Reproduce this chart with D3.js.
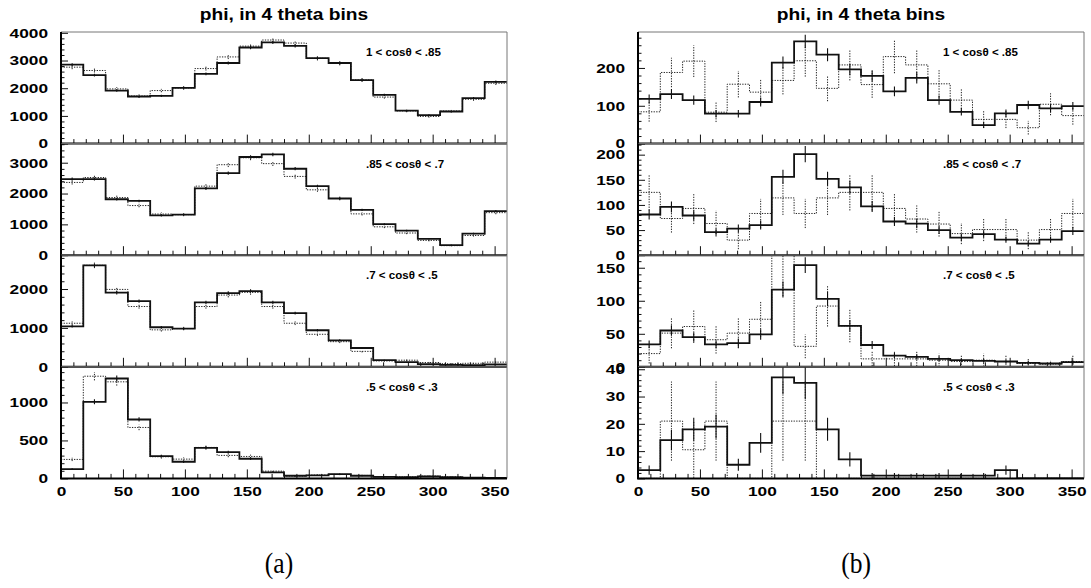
<!DOCTYPE html>
<html>
<head>
<meta charset="utf-8">
<script src="https://cdn.jsdelivr.net/npm/d3@7"></script>
<style>
  html, body { margin: 0; padding: 0; background: #fff; }
  svg { display: block; }
</style>
</head>
<body>
<svg id="chart" width="1091" height="588"></svg>
<script>
// ---- binning and labels -------------------------------------------------
const binEdges = [0, 18, 36, 54, 72, 90, 108, 126, 144, 162, 180, 198, 216, 234, 252, 270, 288, 306, 324, 342, 360];
const xTickLabels = [0, 50, 100, 150, 200, 250, 300, 350];
const xMinorTicks = [10, 20, 30, 40, 60, 70, 80, 90, 110, 120, 130, 140, 160, 170, 180, 190, 210, 220, 230, 240, 260, 270, 280, 290, 310, 320, 330, 340];
const titleText = "phi, in 4 theta bins";
const thetaLabels = ["1 < cos\u03b8 < .85", ".85 < cos\u03b8 < .7", ".7 < cos\u03b8 < .5", ".5 < cos\u03b8 < .3"];
const captions = ["(a)", "(b)"];

// ---- column (a): counts per phi bin ------------------------------------
const a1Solid  = [2850, 2470, 1915, 1700, 1720, 2010, 2515, 2910, 3470, 3655, 3530, 3090, 2910, 2295, 1760, 1190, 1030, 1160, 1640, 2230];
const a1SolidErr = [53, 50, 44, 41, 41, 45, 50, 54, 59, 60, 59, 56, 54, 48, 42, 34, 32, 34, 40, 47];
const a1Dotted = [2760, 2640, 1975, 1720, 1915, 2010, 2710, 3130, 3520, 3740, 3630, 3080, 2900, 2300, 1680, 1180, 980, 1180, 1600, 2180];
const a1DottedErr = [74, 72, 62, 58, 61, 63, 73, 78, 83, 86, 84, 78, 75, 67, 57, 48, 44, 48, 56, 65];

const a2Solid  = [2470, 2470, 1815, 1760, 1295, 1315, 2165, 2665, 3185, 3270, 2805, 2240, 1840, 1470, 1005, 800, 530, 330, 700, 1430];
const a2SolidErr = [50, 50, 43, 42, 36, 36, 47, 52, 56, 57, 53, 47, 43, 38, 32, 28, 23, 18, 26, 38];
const a2Dotted = [2360, 2520, 1870, 1610, 1335, 1315, 2240, 2935, 3160, 2970, 2555, 2120, 1840, 1340, 920, 720, 480, 310, 640, 1380];
const a2DottedErr = [68, 70, 61, 56, 51, 51, 66, 76, 79, 76, 71, 64, 60, 51, 42, 38, 31, 25, 35, 52];

const a3Solid  = [1040, 2610, 1905, 1690, 1017, 983, 1655, 1897, 1948, 1655, 1380, 940, 680, 483, 170, 120, 70, 50, 40, 60];
const a3SolidErr = [32, 51, 44, 41, 32, 31, 41, 44, 44, 41, 37, 31, 26, 22, 13, 11, 8, 7, 6, 8];
const a3Dotted = [1120, 2610, 1990, 1550, 950, 983, 1550, 1845, 1914, 1550, 1120, 836, 646, 397, 150, 170, 110, 80, 90, 120];
const a3DottedErr = [47, 72, 62, 55, 43, 44, 55, 60, 61, 55, 47, 40, 36, 28, 17, 18, 15, 13, 13, 15];

const a4Solid  = [123, 1009, 1316, 776, 294, 219, 403, 346, 259, 79, 35, 39, 57, 35, 20, 15, 25, 15, 10, 8];
const a4SolidErr = [11, 32, 40, 28, 17, 15, 20, 19, 16, 9, 6, 6, 8, 6, 4, 4, 5, 4, 3, 3];
const a4Dotted = [250, 1346, 1272, 671, 285, 254, 408, 303, 289, 96, 31, 44, 53, 39, 25, 20, 30, 20, 12, 10];
const a4DottedErr = [22, 55, 50, 36, 24, 22, 28, 24, 24, 14, 8, 9, 10, 9, 7, 6, 8, 6, 5, 4];

// ---- column (b): counts per phi bin ------------------------------------
const b1Solid  = [118, 131, 115, 79, 79, 110, 214, 270, 235, 196, 179, 138, 174, 115, 84, 49, 80, 102, 93, 99];
const b1SolidErr = [12, 13, 12, 10, 10, 12, 16, 18, 17, 15, 15, 13, 15, 12, 10, 8, 10, 11, 11, 11];
const b1Dotted = [84, 188, 218, 83, 157, 136, 167, 219, 146, 208, 156, 230, 208, 158, 115, 64, 64, 42, 104, 74];
const b1DottedErr = [26, 39, 42, 26, 35, 33, 37, 42, 34, 41, 35, 44, 41, 36, 30, 23, 23, 18, 29, 24];

const b2Solid  = [81, 96, 79, 46, 53, 60, 156, 201, 152, 135, 97, 67, 63, 50, 35, 42, 31, 23, 31, 48];
const b2SolidErr = [10, 11, 10, 7, 8, 9, 14, 16, 14, 13, 11, 9, 9, 8, 7, 7, 6, 5, 6, 8];
const b2Dotted = [125, 73, 93, 63, 30, 83, 114, 83, 114, 125, 125, 93, 72, 62, 43, 51, 51, 30, 51, 83];
const b2DottedErr = [36, 28, 31, 26, 18, 29, 34, 29, 34, 36, 36, 31, 27, 25, 21, 23, 23, 18, 23, 29];

const b3Solid  = [34, 55, 45, 34, 36, 49, 117, 154, 103, 62, 33, 17, 15, 12, 10, 9, 8, 6, 5, 7];
const b3SolidErr = [6, 8, 7, 6, 7, 8, 12, 12, 11, 9, 6, 4, 4, 4, 3, 3, 3, 3, 2, 3];
const b3Dotted = [20, 51, 61, 41, 51, 72, 190, 31, 92, 62, 12, 12, 12, 10, 8, 10, 8, 5, 4, 8];
const b3DottedErr = [15, 23, 25, 21, 23, 27, 83, 18, 31, 25, 11, 11, 11, 10, 9, 10, 9, 7, 6, 9];

const b4Solid  = [3, 14, 18, 19, 5, 13, 37, 35, 18, 7, 1, 1, 1, 1, 1, 1, 3, 0, 0, 0];
const b4SolidErr = [1.7, 3.7, 4.2, 4.4, 2.2, 3.6, 6.1, 5.9, 4.2, 2.6, 1, 1, 1, 1, 1, 1, 1.7, 0, 0, 0];
const b4Dotted = [0, 21, 10.5, 21, 0, 0, 21, 21, 0, 0, 0, 0, 0, 0, 0, 0, 0, 0, 0, 0];
const b4DottedErr = [0, 14.5, 10.3, 14.5, 0, 0, 14.5, 14.5, 0, 0, 0, 0, 0, 0, 0, 0, 0, 0, 0, 0];

// ---- vertical axis ranges and ticks per panel ---------------------------
const yMaxA = [4030, 3620, 2870, 1470];
const yTicksA = [[0, 1000, 2000, 3000, 4000], [0, 1000, 2000, 3000], [0, 1000, 2000], [0, 500, 1000]];
const yMinorStepA = [200, 200, 200, 100];
const yMaxB = [295, 222, 169, 40.9];
const yTicksB = [[0, 100, 200], [0, 50, 100, 150, 200], [0, 50, 100, 150], [0, 10, 20, 30, 40]];
const yMinorStepB = [20, 10, 10, 2];

const columns = [
  { caption: captions[0], yMax: yMaxA, yTicks: yTicksA, yMinor: yMinorStepA, panels: [
    { solid: a1Solid, solidErr: a1SolidErr, dotted: a1Dotted, dottedErr: a1DottedErr },
    { solid: a2Solid, solidErr: a2SolidErr, dotted: a2Dotted, dottedErr: a2DottedErr },
    { solid: a3Solid, solidErr: a3SolidErr, dotted: a3Dotted, dottedErr: a3DottedErr },
    { solid: a4Solid, solidErr: a4SolidErr, dotted: a4Dotted, dottedErr: a4DottedErr } ] },
  { caption: captions[1], yMax: yMaxB, yTicks: yTicksB, yMinor: yMinorStepB, panels: [
    { solid: b1Solid, solidErr: b1SolidErr, dotted: b1Dotted, dottedErr: b1DottedErr },
    { solid: b2Solid, solidErr: b2SolidErr, dotted: b2Dotted, dottedErr: b2DottedErr },
    { solid: b3Solid, solidErr: b3SolidErr, dotted: b3Dotted, dottedErr: b3DottedErr },
    { solid: b4Solid, solidErr: b4SolidErr, dotted: b4Dotted, dottedErr: b4DottedErr } ] }
];

// ---- layout ---------------------------------------------------------------
const plotLefts = [61, 638];
const plotWidth = 446;
const plotTop = 32;
const panelHeight = 111.6;
const sansBold = "'Liberation Sans', Arial, Helvetica, sans-serif";
const textStretch = 1.28;

const svg = d3.select("#chart");

// widen glyphs horizontally while keeping each label anchored at its spot
function stretch(sel, sx) {
  sel.each(function () {
    const t = d3.select(this);
    const x = +t.attr("x") || 0;
    t.attr("x", x / sx).attr("transform", `scale(${sx},1)`);
  });
}

columns.forEach((col, ci) => {
  const left = plotLefts[ci];
  const x = d3.scaleLinear().domain([0, 360]).range([left, left + plotWidth]);
  const g = svg.append("g");

  // title
  g.append("text")
    .attr("transform", `translate(${left + plotWidth / 2},20) scale(1.2,1)`)
    .attr("text-anchor", "middle")
    .style("font", `bold 16px ${sansBold}`)
    .text(titleText);

  col.panels.forEach((p, pi) => {
    const top = plotTop + pi * panelHeight;
    const bottom = top + panelHeight;
    const y = d3.scaleLinear().domain([0, col.yMax[pi]]).range([bottom, top]);
    const clipId = `clip-${ci}-${pi}`;
    g.append("clipPath").attr("id", clipId)
      .append("rect").attr("x", left).attr("y", top - 0.5)
      .attr("width", plotWidth).attr("height", panelHeight + 0.5);

    const pg = g.append("g");
    const marks = pg.append("g").attr("clip-path", `url(#${clipId})`);

    const stepLine = d3.line()
      .x(d => x(d[0])).y(d => y(d[1]))
      .curve(d3.curveStepAfter);
    const pts = vals => binEdges.map((e, i) => [e, vals[Math.min(i, vals.length - 1)]]);
    const centers = binEdges.slice(0, -1).map((e, i) => (e + binEdges[i + 1]) / 2);

    // dotted histogram and its error bars
    marks.append("path")
      .attr("d", stepLine(pts(p.dotted)))
      .attr("fill", "none").attr("stroke", "#222")
      .attr("stroke-width", 1).attr("stroke-dasharray", "1.3,1.3");
    marks.selectAll(".derr").data(p.dotted.map((v, i) => [centers[i], v, p.dottedErr[i]]).filter(d => d[2] > 0))
      .join("line")
      .attr("x1", d => x(d[0])).attr("x2", d => x(d[0]))
      .attr("y1", d => y(d[1] - d[2])).attr("y2", d => y(d[1] + d[2]))
      .attr("stroke", "#222").attr("stroke-width", 1).attr("stroke-dasharray", "1.3,1.3");

    // solid histogram and its error bars
    marks.append("path")
      .attr("d", stepLine(pts(p.solid)))
      .attr("fill", "none").attr("stroke", "#111")
      .attr("stroke-width", 1.8);
    marks.selectAll(".serr").data(p.solid.map((v, i) => [centers[i], v, p.solidErr[i]]).filter(d => d[2] > 0))
      .join("line")
      .attr("x1", d => x(d[0])).attr("x2", d => x(d[0]))
      .attr("y1", d => y(d[1] - d[2])).attr("y2", d => y(d[1] + d[2]))
      .attr("stroke", "#111").attr("stroke-width", 1.1);

    // thin frame on top and right
    pg.append("path")
      .attr("d", `M${left},${top}H${left + plotWidth}V${bottom}`)
      .attr("fill", "none").attr("stroke", "#777").attr("stroke-width", 1);

    // y axis: major ticks with labels, minor ticks, both pointing inward
    const yMinorVals = d3.range(0, col.yMax[pi], col.yMinor[pi]).filter(v => !col.yTicks[pi].includes(v));
    pg.append("g").attr("transform", `translate(${left},0)`)
      .call(d3.axisLeft(y).tickValues(yMinorVals).tickSize(-3.5).tickFormat(""))
      .call(a => a.select(".domain").remove())
      .call(a => a.selectAll("line").attr("stroke", "#111"));
    const yAx = pg.append("g").attr("transform", `translate(${left},0)`)
      .call(d3.axisLeft(y).tickValues(col.yTicks[pi]).tickSize(-7).tickPadding(13).tickFormat(d3.format("d")))
      .call(a => a.select(".domain").remove())
      .call(a => a.selectAll("line").attr("stroke", "#111"));
    yAx.selectAll("text")
      .attr("fill", "#000")
      .style("font", `bold 13.5px ${sansBold}`)
      .call(stretch, textStretch);

    // x axis ticks pointing up from the panel floor
    pg.append("g").attr("transform", `translate(0,${bottom})`)
      .call(d3.axisBottom(x).tickValues(xMinorTicks).tickSize(-4.5).tickFormat(""))
      .call(a => a.select(".domain").remove())
      .call(a => a.selectAll("line").attr("stroke", "#111"));
    const xAx = pg.append("g").attr("transform", `translate(0,${bottom})`)
      .call(d3.axisBottom(x).tickValues(xTickLabels).tickSize(-9).tickPadding(8)
        .tickFormat(pi === 3 ? d3.format("d") : ""))
      .call(a => a.select(".domain").remove())
      .call(a => a.selectAll("line").attr("stroke", "#111"));
    xAx.selectAll("text")
      .attr("fill", "#000")
      .style("font", `bold 13.5px ${sansBold}`)
      .call(stretch, textStretch);

    // heavy axis lines on the left and bottom
    pg.append("path")
      .attr("d", `M${left},${top}V${bottom}H${left + plotWidth}`)
      .attr("fill", "none").attr("stroke", "#000").attr("stroke-width", 2);

    // theta-bin label
    pg.append("text")
      .attr("transform", `translate(${left + 305},${top + 24}) scale(1.05,1)`)
      .style("font", `bold 11px ${sansBold}`)
      .attr("fill", "#000")
      .text(thetaLabels[pi]);
  });

  // sub-figure caption
  g.append("text")
    .attr("transform", `translate(${left + plotWidth / 2 - 5},573) scale(0.85,1)`)
    .attr("text-anchor", "middle")
    .style("font", "30px 'Liberation Serif', 'DejaVu Serif', serif")
    .attr("fill", "#000")
    .text(col.caption);
});
</script>
</body>
</html>
